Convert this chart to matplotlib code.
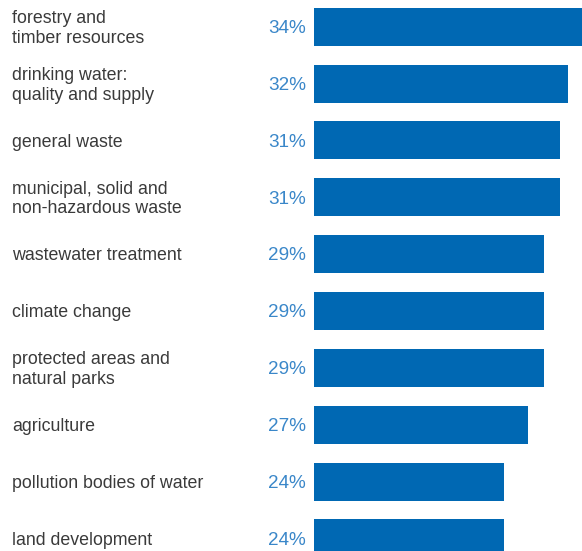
import matplotlib.pyplot as plt

# topics and share of mentions
topics = [
    "forestry and\ntimber resources",
    "drinking water:\nquality and supply",
    "general waste",
    "municipal, solid and\nnon-hazardous waste",
    "wastewater treatment",
    "climate change",
    "protected areas and\nnatural parks",
    "agriculture",
    "pollution bodies of water",
    "land development",
]
shares = [34, 32, 31, 31, 29, 29, 29, 27, 24, 24]

bar_color = "#0068b3"
pct_color = "#3a87c9"
text_color = "#3a3a3a"

plt.rcParams["font.family"] = ["Liberation Sans", "DejaVu Sans"]

fig = plt.figure(figsize=(5.82, 5.51), dpi=100)
# bars live in the right-hand part of the figure
ax = fig.add_axes([314 / 582, 0, 268 / 582, 1])

ypos = list(range(len(shares)))
ax.barh(ypos, shares, height=0.668, color=bar_color, left=0)
ax.set_xlim(0.25, 33.75)
ax.set_ylim(9.22, -0.47)
ax.axis("off")

for y, lab, v in zip(ypos, topics, shares):
    # label at the left edge of the figure
    yf = 1 - (28.5 + 56.85 * y) / 551
    fig.text(12 / 582, yf, lab, ha="left", va="center", fontsize=12.8,
             color=text_color, linespacing=1.2)
    fig.text(306 / 582, yf, f"{v}%", ha="right", va="center", fontsize=13.6,
             color=pct_color)

fig.savefig("out.png", dpi=100)
